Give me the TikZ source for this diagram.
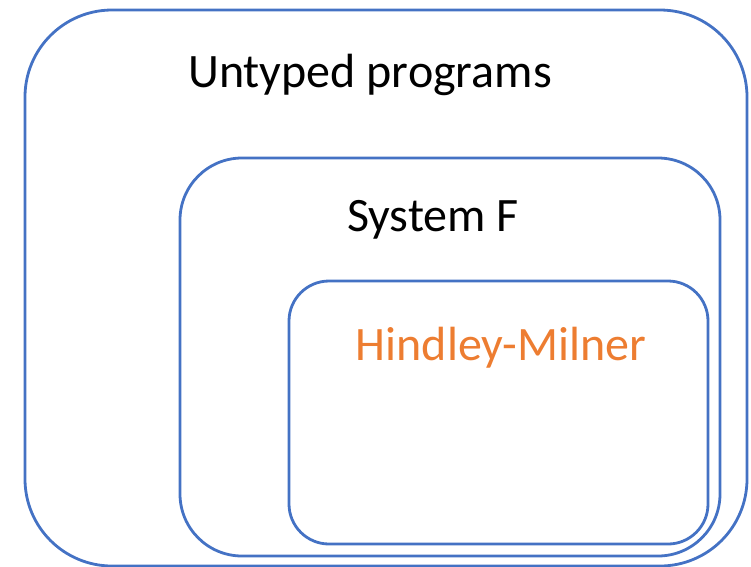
\documentclass[tikz,border=0pt]{standalone}
\usepackage{fontspec}
\setmainfont{Carlito}
\definecolor{setblue}{HTML}{4472C4}
\definecolor{hmorange}{HTML}{ED7D31}
\begin{document}
\begin{tikzpicture}[x=1pt,y=-1pt,
  setbox/.style={draw=setblue,line width=2.8pt},
  setlabel/.style={anchor=base,inner sep=0pt,font=\fontsize{48}{58}\selectfont}]
\useasboundingbox (0,0) rectangle (751,566);
% nested sets of programs
\draw[setbox,rounded corners=87pt] (25,10) rectangle (747,566);
\draw[setbox,rounded corners=62pt] (180,158) rectangle (720,556);
\draw[setbox,rounded corners=40pt] (289,281) rectangle (708,544);
% labels
\node[setlabel] (untyped) at (370,87) {Untyped programs};
\node[setlabel] (sysf) at (433,231) {System F};
\node[setlabel,text=hmorange] (hm) at (501,360) {Hindley-Milner};
\end{tikzpicture}
\end{document}
